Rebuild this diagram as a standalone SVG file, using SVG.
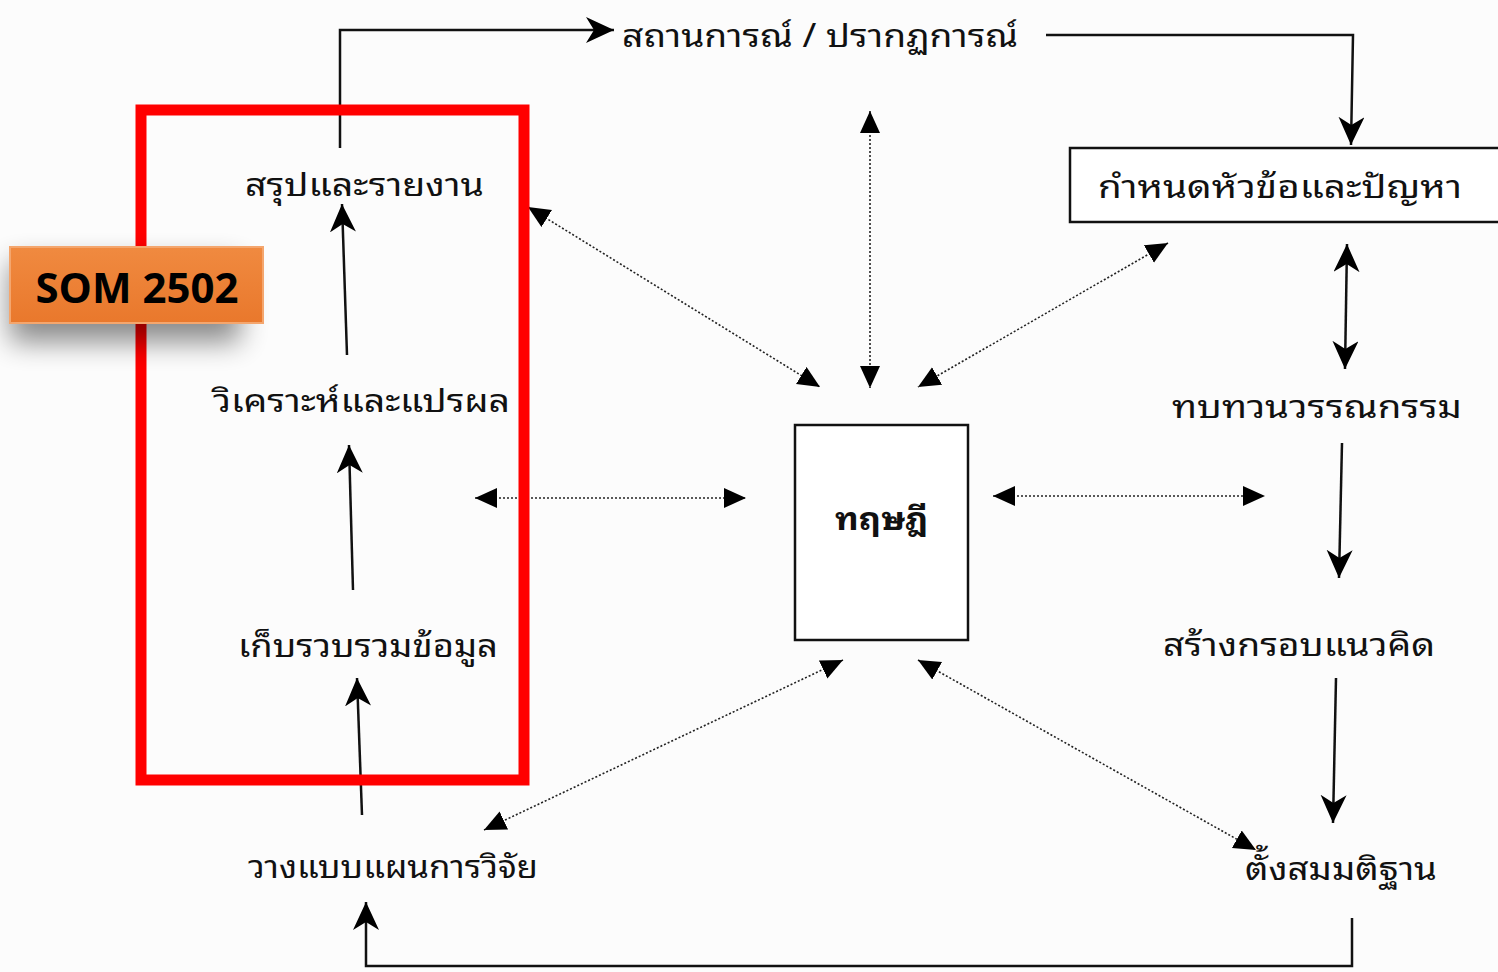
<svg xmlns="http://www.w3.org/2000/svg" width="1498" height="972" viewBox="0 0 1498 972">
<style>
.t{font-family:"Noto Sans Thai Looped","Noto Serif Thai","Noto Sans Thai","Noto Sans","DejaVu Sans","Liberation Sans",sans-serif;font-size:32px;fill:#111}
.s{stroke:#111;stroke-width:2.5;fill:none}
.d{stroke:#222;stroke-width:1.6;fill:none;stroke-dasharray:2 2}
</style>
<defs>
<marker id="tri" markerUnits="userSpaceOnUse" markerWidth="26" markerHeight="22" refX="22" refY="10" orient="auto-start-reverse" viewBox="0 0 26 22">
<path d="M0,0 L22,10 L0,20 z" fill="#000"/>
</marker>
<marker id="notch" markerUnits="userSpaceOnUse" markerWidth="32" markerHeight="28" refX="28" refY="13" orient="auto-start-reverse" viewBox="0 0 32 28">
<path d="M0,0 L28,13 L0,26 L8,13 z" fill="#000"/>
</marker>
<filter id="sh" x="-40%" y="-60%" width="200%" height="260%">
<feGaussianBlur stdDeviation="14"/>
</filter>
<linearGradient id="og" x1="0" y1="0" x2="0" y2="1">
<stop offset="0" stop-color="#F08A40"/>
<stop offset="1" stop-color="#E9782C"/>
</linearGradient>
</defs>
<rect width="1498" height="972" fill="#fcfcfc"/>

<g id="connectors">
<polyline class="s" points="340,148 340,30 614,30" marker-end="url(#notch)"/>
<polyline class="s" points="1046,35 1353,35 1351,145" marker-end="url(#notch)"/>
<line class="s" x1="1347" y1="244" x2="1345" y2="369" marker-start="url(#notch)" marker-end="url(#notch)"/>
<line class="s" x1="1342" y1="443" x2="1339" y2="578" marker-end="url(#notch)"/>
<line class="s" x1="1336" y1="678" x2="1333" y2="823" marker-end="url(#notch)"/>
<polyline class="s" points="1352,918 1352,966 366,966 366,902" marker-end="url(#notch)"/>
<line class="s" x1="362" y1="815" x2="357" y2="678" marker-end="url(#notch)"/>
<line class="s" x1="353" y1="590" x2="349" y2="445" marker-end="url(#notch)"/>
<line class="s" x1="347" y1="355" x2="342" y2="204" marker-end="url(#notch)"/>
<line class="d" x1="528" y1="207" x2="820" y2="387" marker-start="url(#tri)" marker-end="url(#tri)"/>
<line class="d" x1="870" y1="111" x2="870" y2="388" marker-start="url(#tri)" marker-end="url(#tri)"/>
<line class="d" x1="1168" y1="243" x2="918" y2="387" marker-start="url(#tri)" marker-end="url(#tri)"/>
<line class="d" x1="475" y1="498" x2="746" y2="498" marker-start="url(#tri)" marker-end="url(#tri)"/>
<line class="d" x1="993" y1="496" x2="1265" y2="496" marker-start="url(#tri)" marker-end="url(#tri)"/>
<line class="d" x1="843" y1="660" x2="484" y2="830" marker-start="url(#tri)" marker-end="url(#tri)"/>
<line class="d" x1="918" y1="660" x2="1256" y2="850" marker-start="url(#tri)" marker-end="url(#tri)"/>
</g>

<g id="n-situation"><text class="t" x="622" y="47" textLength="396" lengthAdjust="spacingAndGlyphs">สถานการณ์ / ปรากฏการณ์</text></g>
<g id="n-topic">
<rect x="1070" y="148" width="440" height="74" fill="#fff" stroke="#111" stroke-width="2.5"/>
<text class="t" x="1098" y="198" textLength="364" lengthAdjust="spacingAndGlyphs">กำหนดหัวข้อและปัญหา</text>
</g>
<g id="n-review"><text class="t" x="1172" y="418" textLength="290" lengthAdjust="spacingAndGlyphs">ทบทวนวรรณกรรม</text></g>
<g id="n-framework"><text class="t" x="1163" y="656" textLength="272" lengthAdjust="spacingAndGlyphs">สร้างกรอบแนวคิด</text></g>
<g id="n-hypothesis"><text class="t" x="1245" y="880" textLength="192" lengthAdjust="spacingAndGlyphs">ตั้งสมมติฐาน</text></g>
<g id="n-design"><text class="t" x="248" y="878" textLength="290" lengthAdjust="spacingAndGlyphs">วางแบบแผนการวิจัย</text></g>
<g id="n-collect"><text class="t" x="238" y="657" textLength="260" lengthAdjust="spacingAndGlyphs">เก็บรวบรวมข้อมูล</text></g>
<g id="n-analyze"><text class="t" x="213" y="412" textLength="297" lengthAdjust="spacingAndGlyphs">วิเคราะห์และแปรผล</text></g>
<g id="n-report"><text class="t" x="245" y="196" textLength="239" lengthAdjust="spacingAndGlyphs">สรุปและรายงาน</text></g>
<g id="n-theory">
<rect x="795" y="425" width="173" height="215" fill="#fff" stroke="#111" stroke-width="2.5"/>
<text class="t" x="835" y="530" font-weight="bold" textLength="93" lengthAdjust="spacingAndGlyphs">ทฤษฎี</text>
</g>

<g id="highlight">
<rect x="141" y="110" width="383" height="670" fill="none" stroke="#FF0000" stroke-width="11"/>
</g>

<g id="badge">
<rect x="10" y="262" width="230" height="80" fill="#000" opacity="0.45" filter="url(#sh)"/>
<rect x="10" y="247" width="253" height="76" fill="url(#og)" stroke="#F4A66E" stroke-width="2"/>
<text x="137" y="303" text-anchor="middle" font-family="Open Sans,Liberation Sans,sans-serif" font-weight="bold" font-size="42" fill="#000" textLength="203" lengthAdjust="spacingAndGlyphs">SOM 2502</text>
</g>
</svg>
